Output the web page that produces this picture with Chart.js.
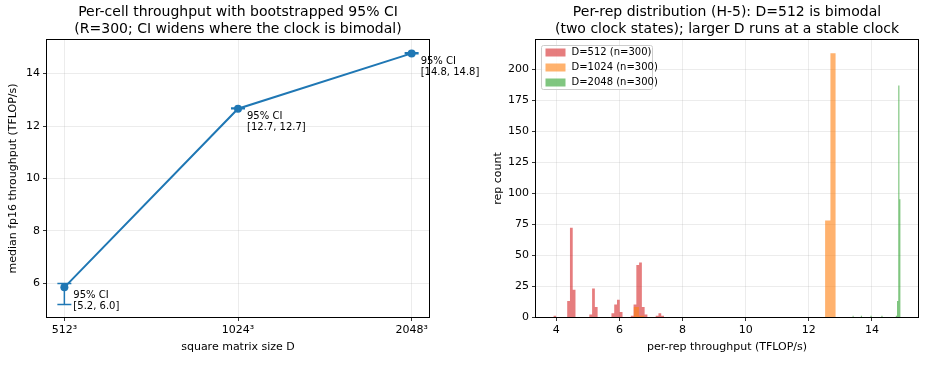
<!DOCTYPE html>
<html>
<head>
<meta charset="utf-8">
<script src="https://cdn.jsdelivr.net/npm/chart.js@4"></script>
<style>
  body { margin: 0; background: #fff; }
  #wrap { position: relative; width: 925px; height: 390px; }
  #left { position: absolute; left: 0; top: 0; }
  #right { position: absolute; left: 462px; top: 0; }
</style>
</head>
<body>
<div id="wrap">
  <canvas id="left" width="490" height="390"></canvas>
  <canvas id="right" width="463" height="390"></canvas>
</div>
<script>
// left panel: per-cell median with bootstrap CI
const sizeLabels = ['512³', '1024³', '2048³'];
const medianTflops = [5.85, 12.66, 14.77];
const ciLow = [5.2, 12.66, 14.76];
const ciHigh = [6.0, 12.69, 14.79];
const leftYTicks = [6, 8, 10, 12, 14];

// right panel: per-rep histograms, one bin set per size
const histLabels = ['D=512 (n=300)', 'D=1024 (n=300)', 'D=2048 (n=300)'];
const binStart512 = 3.909, binWidth512 = 0.0876;
const counts512 = [1, 0, 0, 0, 0, 13, 72, 22, 0, 0,
                   0, 0, 0, 2, 23, 8, 0, 0, 0, 0,
                   0, 3, 10, 14, 4, 0, 0, 0, 1, 10,
                   42, 44, 8, 2, 0, 0, 0, 1, 3, 1];
const binStart1024 = 6.45, binWidth1024 = 0.1685;
const counts1024 = [8, 1, 0, 0, 0, 0, 0, 0, 0, 0,
                    0, 0, 0, 0, 0, 0, 0, 0, 0, 0,
                    0, 0, 0, 0, 0, 0, 0, 0, 0, 0,
                    0, 0, 0, 0, 0, 0, 78, 213];
const binStart2048 = 13.38, binWidth2048 = 0.0382;
const counts2048 = [1, 0, 0, 0, 0, 0, 0, 1, 0, 0,
                    0, 0, 0, 0, 0, 1, 0, 0, 0, 0,
                    0, 0, 0, 0, 1, 0, 0, 0, 0, 0,
                    0, 0, 0, 0, 0, 0, 1, 13, 187, 95];
const throughputTicks = [4, 6, 8, 10, 12, 14];
const countTicks = [0, 25, 50, 75, 100, 125, 150, 175, 200];

Chart.defaults.font.family = '"DejaVu Sans", sans-serif';
Chart.defaults.color = '#000';
Chart.defaults.animation = false;

const gridStyle = {
    color: 'rgba(176,176,176,0.3)',
    lineWidth: 0.8,
    tickColor: '#000',
    tickLength: 4,
    tickWidth: 0.8
};

// step outline for a histogram, filled down to zero
function stepPoints(start, width, counts) {
    const pts = counts.map((c, i) => ({ x: start + i * width, y: c }));
    pts.push({ x: start + counts.length * width, y: 0 });
    return pts;
}

const frame = {
    id: 'frame',
    afterDatasetsDraw(chart) {
        const a = chart.chartArea;
        const ctx = chart.ctx;
        ctx.save();
        ctx.strokeStyle = '#000';
        ctx.lineWidth = 1;
        ctx.strokeRect(Math.round(a.left) - 0.5, Math.round(a.top) - 0.5,
            Math.round(a.right - a.left) + 1, Math.round(a.bottom - a.top) + 1);
        ctx.restore();
    }
};

const ciBars = {
    id: 'ciBars',
    beforeDatasetsDraw(chart) {
        const xs = chart.scales.x, ys = chart.scales.y, ctx = chart.ctx;
        ctx.save();
        ctx.strokeStyle = '#1f77b4';
        ctx.lineWidth = 1.5;
        ctx.beginPath();
        medianTflops.forEach((m, i) => {
            const x = xs.getPixelForValue(i);
            const yl = ys.getPixelForValue(ciLow[i]);
            const yh = ys.getPixelForValue(ciHigh[i]);
            ctx.moveTo(x, yl); ctx.lineTo(x, yh);
            ctx.moveTo(x - 7, yl); ctx.lineTo(x + 7, yl);
            ctx.moveTo(x - 7, yh); ctx.lineTo(x + 7, yh);
        });
        ctx.stroke();
        ctx.restore();
    }
};

const ciNotes = {
    id: 'ciNotes',
    afterDraw(chart) {
        const xs = chart.scales.x, ys = chart.scales.y, ctx = chart.ctx;
        ctx.save();
        ctx.font = '10px "DejaVu Sans"';
        ctx.fillStyle = '#000';
        ctx.textBaseline = 'middle';
        medianTflops.forEach((m, i) => {
            const px = xs.getPixelForValue(i) + 9;
            const py = ys.getPixelForValue(m) + 8;
            ctx.fillText('95% CI', px, py);
            ctx.fillText('[' + ciLow[i].toFixed(1) + ', ' + ciHigh[i].toFixed(1) + ']', px, py + 11);
        });
        ctx.restore();
    }
};

const insideLegend = {
    id: 'insideLegend',
    afterDraw(chart) {
        const a = chart.chartArea, ctx = chart.ctx;
        const x = Math.round(a.left) + 5.5, y = Math.round(a.top) + 5.5, w = 111, h = 44;
        ctx.save();
        ctx.fillStyle = 'rgba(255,255,255,0.8)';
        ctx.strokeStyle = '#cccccc';
        ctx.lineWidth = 1;
        ctx.beginPath();
        if (ctx.roundRect) ctx.roundRect(x, y, w, h, 2); else ctx.rect(x, y, w, h);
        ctx.fill();
        ctx.stroke();
        ctx.font = '10px "DejaVu Sans"';
        ctx.textBaseline = 'middle';
        chart.data.datasets.forEach((ds, i) => {
            const ry = y + 7 + i * 15;
            ctx.fillStyle = ds.backgroundColor;
            ctx.fillRect(x + 4, ry - 4, 20, 8);
            ctx.fillStyle = '#000';
            ctx.fillText(ds.label, x + 30, ry);
        });
        ctx.restore();
    }
};

new Chart(document.getElementById('left'), {
    type: 'line',
    data: {
        datasets: [{
            data: medianTflops.map((m, i) => ({ x: i, y: m })),
            borderColor: '#1f77b4',
            backgroundColor: '#1f77b4',
            borderWidth: 2,
            pointRadius: 4,
            pointBorderWidth: 0
        }]
    },
    options: {
        responsive: false,
        layout: { padding: { left: 0, right: 61, top: 0, bottom: 33 } },
        plugins: {
            legend: { display: false },
            tooltip: { enabled: false },
            title: {
                display: true,
                fullSize: false,
                text: ['Per-cell throughput with bootstrapped 95% CI',
                       '(R=300; CI widens where the clock is bimodal)'],
                font: { size: 14, weight: 'normal' },
                padding: { top: 4, bottom: 2.4 }
            }
        },
        scales: {
            x: {
                type: 'linear',
                min: -0.1,
                max: 2.1,
                afterBuildTicks: s => { s.ticks = sizeLabels.map((_, i) => ({ value: i })); },
                afterFit: s => { s.height = 40; },
                ticks: { callback: v => sizeLabels[v], font: { size: 11 }, maxRotation: 0, padding: 3 },
                grid: gridStyle,
                border: { display: false },
                title: { display: true, text: 'square matrix size D', font: { size: 11 }, padding: { top: 0, bottom: 3.4 } }
            },
            y: {
                min: 4.72,
                max: 15.28,
                afterBuildTicks: s => { s.ticks = leftYTicks.map(v => ({ value: v })); },
                afterFit: s => { s.width = 47; },
                ticks: { font: { size: 11 }, padding: 3 },
                grid: gridStyle,
                border: { display: false },
                title: { display: true, text: 'median fp16 throughput (TFLOP/s)', font: { size: 11 }, padding: { top: 6.4, bottom: 0 } }
            }
        }
    },
    plugins: [ciBars, frame, ciNotes]
});

new Chart(document.getElementById('right'), {
    type: 'line',
    data: {
        datasets: [
            { label: histLabels[0], data: stepPoints(binStart512, binWidth512, counts512),
              backgroundColor: 'rgba(214,39,40,0.6)', order: 2 },
            { label: histLabels[1], data: stepPoints(binStart1024, binWidth1024, counts1024),
              backgroundColor: 'rgba(255,127,14,0.6)', order: 1 },
            { label: histLabels[2], data: stepPoints(binStart2048, binWidth2048, counts2048),
              backgroundColor: 'rgba(44,160,44,0.6)', order: 0 }
        ].map(ds => Object.assign(ds, {
            stepped: 'before',
            fill: 'origin',
            borderWidth: 0,
            borderColor: 'rgba(0,0,0,0)',
            pointRadius: 0
        }))
    },
    options: {
        responsive: false,
        layout: { padding: { left: 0, right: 7, top: 0, bottom: 33 } },
        plugins: {
            legend: { display: false },
            tooltip: { enabled: false },
            title: {
                display: true,
                fullSize: false,
                text: ['Per-rep distribution (H-5): D=512 is bimodal',
                       '(two clock states); larger D runs at a stable clock'],
                font: { size: 14, weight: 'normal' },
                padding: { top: 4, bottom: 2.4 }
            }
        },
        scales: {
            x: {
                type: 'linear',
                min: 3.359,
                max: 15.458,
                afterBuildTicks: s => { s.ticks = throughputTicks.map(v => ({ value: v })); },
                afterFit: s => { s.height = 40; },
                ticks: { font: { size: 11 }, maxRotation: 0, padding: 3 },
                grid: gridStyle,
                border: { display: false },
                title: { display: true, text: 'per-rep throughput (TFLOP/s)', font: { size: 11 }, padding: { top: 0, bottom: 3.4 } }
            },
            y: {
                min: 0,
                max: 223.65,
                afterBuildTicks: s => { s.ticks = countTicks.map(v => ({ value: v })); },
                afterFit: s => { s.width = 74; },
                ticks: { font: { size: 11 }, padding: 3 },
                grid: gridStyle,
                border: { display: false },
                title: { display: true, text: 'rep count', font: { size: 11 }, padding: { top: 29.4, bottom: 0 } }
            }
        }
    },
    plugins: [frame, insideLegend]
});
</script>
</body>
</html>
